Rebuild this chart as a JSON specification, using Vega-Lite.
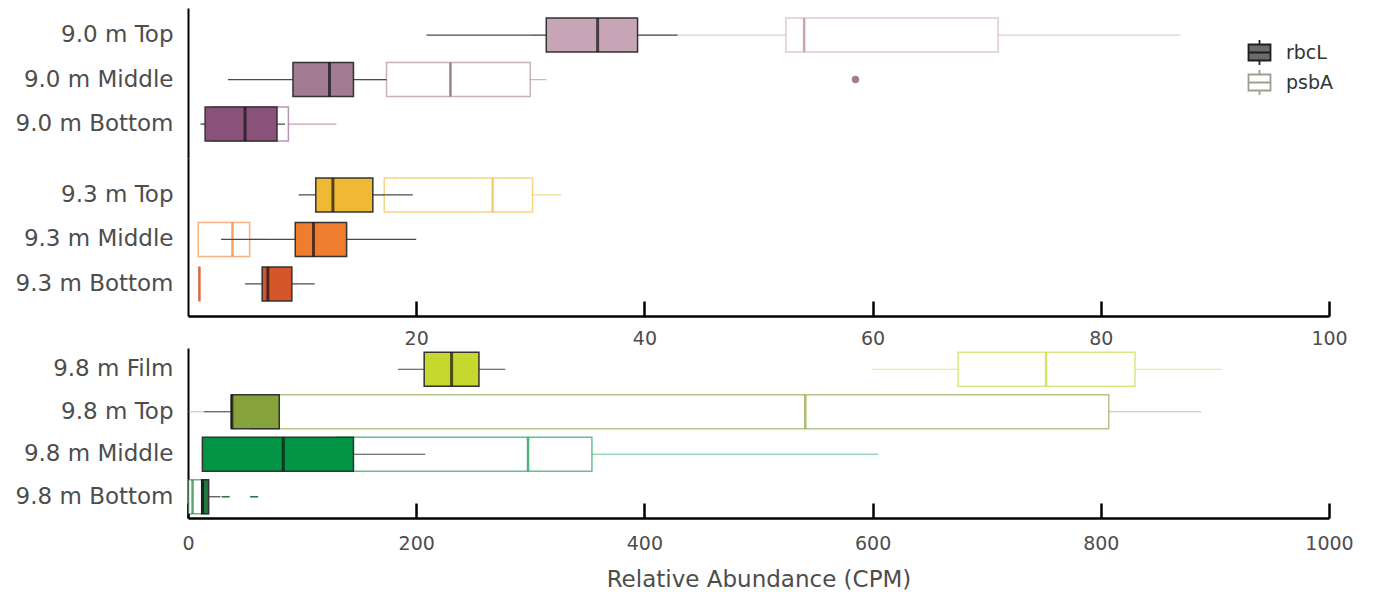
{
  "$schema": "https://vega.github.io/schema/vega-lite/v6.json",
  "background": "white",
  "padding": {"left": 15, "top": 8, "right": 5, "bottom": 2},
  "spacing": 0,
  "bounds": "full",
  "datasets": {
    "boxes": [
      {"panel": "a", "group": "9.0 m Top", "gene": "rbcL", "lo": 20.9, "q1": 31.4, "med": 35.9, "q3": 39.4, "hi": 42.9},
      {"panel": "a", "group": "9.0 m Top", "gene": "psbA", "lo": 30, "q1": 52.4, "med": 54.0, "q3": 71.0, "hi": 87.0},
      {"panel": "a", "group": "9.0 m Middle", "gene": "rbcL", "lo": 3.5, "q1": 9.2, "med": 12.4, "q3": 14.5, "hi": 17.4},
      {"panel": "a", "group": "9.0 m Middle", "gene": "psbA", "lo": 15, "q1": 17.4, "med": 23.0, "q3": 30.0, "hi": 31.4},
      {"panel": "a", "group": "9.0 m Bottom", "gene": "rbcL", "lo": 1.1, "q1": 1.5, "med": 5.0, "q3": 7.8, "hi": 8.5},
      {"panel": "a", "group": "9.0 m Bottom", "gene": "psbA", "lo": 1.2, "q1": 2.0, "med": 5.0, "q3": 8.8, "hi": 13.0},
      {"panel": "b", "group": "9.3 m Top", "gene": "rbcL", "lo": 9.7, "q1": 11.2, "med": 12.7, "q3": 16.2, "hi": 19.7},
      {"panel": "b", "group": "9.3 m Top", "gene": "psbA", "lo": 14, "q1": 17.2, "med": 26.7, "q3": 30.2, "hi": 32.7},
      {"panel": "b", "group": "9.3 m Middle", "gene": "rbcL", "lo": 2.9, "q1": 9.4, "med": 11.0, "q3": 13.9, "hi": 20.0},
      {"panel": "b", "group": "9.3 m Middle", "gene": "psbA", "lo": 0.9, "q1": 0.9, "med": 3.9, "q3": 5.4, "hi": 6.9},
      {"panel": "b", "group": "9.3 m Bottom", "gene": "rbcL", "lo": 5.0, "q1": 6.5, "med": 7.0, "q3": 9.1, "hi": 11.1},
      {"panel": "b", "group": "9.3 m Bottom", "gene": "psbA", "lo": 0.95, "q1": 0.97, "med": 1.0, "q3": 1.02, "hi": 1.05},
      {"panel": "c", "group": "9.8 m Film", "gene": "rbcL", "lo": 184, "q1": 207, "med": 231, "q3": 255, "hi": 278},
      {"panel": "c", "group": "9.8 m Film", "gene": "psbA", "lo": 599, "q1": 675, "med": 752, "q3": 830, "hi": 906},
      {"panel": "c", "group": "9.8 m Top", "gene": "rbcL", "lo": 14, "q1": 38, "med": 38.5, "q3": 80, "hi": 80},
      {"panel": "c", "group": "9.8 m Top", "gene": "psbA", "lo": 0, "q1": 55, "med": 541, "q3": 807, "hi": 888},
      {"panel": "c", "group": "9.8 m Middle", "gene": "rbcL", "lo": 12, "q1": 12.6, "med": 83.5, "q3": 145, "hi": 208},
      {"panel": "c", "group": "9.8 m Middle", "gene": "psbA", "lo": 100, "q1": 130, "med": 298, "q3": 354, "hi": 605},
      {"panel": "c", "group": "9.8 m Bottom", "gene": "rbcL", "lo": 11.5, "q1": 12, "med": 12.8, "q3": 18, "hi": 28.5},
      {"panel": "c", "group": "9.8 m Bottom", "gene": "psbA", "lo": 0, "q1": 0.5, "med": 4, "q3": 18, "hi": 18}
    ],
    "outliers": [
      {"panel": "a", "group": "9.0 m Middle", "gene": "psbA", "value": 58.5},
      {"panel": "c", "group": "9.8 m Bottom", "gene": "rbcL", "value": 33},
      {"panel": "c", "group": "9.8 m Bottom", "gene": "rbcL", "value": 58}
    ]
  },
  "vconcat": [
    {
      "width": 1141,
      "height": 150,
      "data": {"name": "boxes"},
      "transform": [{"filter": "datum.panel === 'a'"}],
      "encoding": {
        "y": {"field": "group", "type": "nominal", "title": null,
          "scale": {"domain": ["9.0 m Top", "9.0 m Middle", "9.0 m Bottom"], "paddingInner": 0, "paddingOuter": 0.185, "align": 0.29}}
      },
      "layer": [
        {"transform": [{"filter": "datum.gene === 'psbA'"}],
         "mark": {"type": "rule", "strokeWidth": 1.2, "strokeOpacity": 0.55},
         "encoding": {
           "x": {"field": "lo", "type": "quantitative", "scale": {"domain": [0, 100], "nice": false, "zero": false}, "axis": null},
           "x2": {"field": "hi"},
           "stroke": {"field": "group", "type": "nominal", "legend": null, "scale": {"domain": ["9.0 m Top","9.0 m Middle","9.0 m Bottom","9.3 m Top","9.3 m Middle","9.3 m Bottom","9.8 m Film","9.8 m Top","9.8 m Middle","9.8 m Bottom"], "range": ["#c8a5b6","#a27b95","#8a527b","#f0b935","#ee7d2f","#d5562a","#c6d72d","#86a23b","#009444","#1f7a3e"]}}
         }},
        {"transform": [{"filter": "datum.gene === 'psbA'"}],
         "mark": {"type": "bar", "size": 34, "fill": "white", "strokeWidth": 1.5, "strokeOpacity": 0.6},
         "encoding": {
           "x": {"field": "q1", "type": "quantitative", "scale": {"domain": [0, 100], "nice": false, "zero": false}, "axis": null},
           "x2": {"field": "q3"},
           "stroke": {"field": "group", "type": "nominal", "legend": null}
         }},
        {"transform": [{"filter": "datum.gene === 'psbA'"}],
         "mark": {"type": "tick", "size": 34, "thickness": 2.5, "opacity": 1},
         "encoding": {
           "x": {"field": "med", "type": "quantitative", "scale": {"domain": [0, 100], "nice": false, "zero": false}, "axis": null},
           "fill": {"field": "group", "type": "nominal", "legend": null, "scale": {"domain": ["9.0 m Top","9.0 m Middle","9.0 m Bottom","9.3 m Top","9.3 m Middle","9.3 m Bottom","9.8 m Film","9.8 m Top","9.8 m Middle","9.8 m Bottom"], "range": ["#c8a5b6","#a27b95","#8a527b","#f0b935","#ee7d2f","#d5562a","#c6d72d","#86a23b","#009444","#1f7a3e"]}}
         }},
        {"transform": [{"filter": "datum.gene === 'rbcL'"}],
         "mark": {"type": "rule", "strokeWidth": 1.2, "color": "#4a4a4a"},
         "encoding": {
           "x": {"field": "lo", "type": "quantitative", "scale": {"domain": [0, 100], "nice": false, "zero": false}, "axis": null},
           "x2": {"field": "hi"}
         }},
        {"transform": [{"filter": "datum.gene === 'rbcL'"}],
         "mark": {"type": "bar", "size": 34, "stroke": "#333333", "strokeWidth": 1.5},
         "encoding": {
           "x": {"field": "q1", "type": "quantitative", "scale": {"domain": [0, 100], "nice": false, "zero": false}, "axis": null},
           "x2": {"field": "q3"},
           "fill": {"field": "group", "type": "nominal", "legend": null}
         }},
        {"transform": [{"filter": "datum.gene === 'rbcL'"}],
         "mark": {"type": "tick", "size": 34, "thickness": 3, "color": "#111111"},
         "encoding": {
           "x": {"field": "med", "type": "quantitative", "scale": {"domain": [0, 100], "nice": false, "zero": false}, "axis": null}
         }},
        {"data": {"name": "outliers"},
         "transform": [{"filter": "datum.panel === 'a'"}],
         "mark": {"type": "circle", "size": 55, "opacity": 1},
         "encoding": {
           "x": {"field": "value", "type": "quantitative", "scale": {"domain": [0, 100], "nice": false, "zero": false}, "axis": null},
           "fill": {"field": "group", "type": "nominal", "legend": null}
         }},
        {"mark": {"type": "point", "filled": true, "opacity": 0},
         "encoding": {
           "x": {"field": "q1", "type": "quantitative", "scale": {"domain": [0, 100], "nice": false, "zero": false}, "axis": null},
           "color": {"field": "gene", "type": "nominal",
             "scale": {"domain": ["rbcL", "psbA"], "range": ["#6b6b6b", "#ffffff"]},
             "legend": {"title": null, "orient": "none", "legendX": 1058, "legendY": 31,
               "symbolType": "M-0.88,-0.64H0.88V0.64H-0.88Z M-0.88,0H0.88 M0,-1V-0.64 M0,0.64V1",
               "symbolSize": 625, "symbolOpacity": 1, "symbolStrokeWidth": 1.8, "symbolStrokeColor": "#333333",
               "labelFontSize": 19, "labelColor": "#333333", "labelFont": "DejaVu Sans", "labelOffset": 13, "rowPadding": -5,
               "encode": {"symbols": {"update": {
                 "fill": {"signal": "datum.value === 'rbcL' ? '#6b6b6b' : '#ffffff'"},
                 "stroke": {"signal": "datum.value === 'rbcL' ? '#1f1f1f' : '#9aa08c'"},
                 "strokeWidth": {"value": 1.8},
                 "opacity": {"value": 1}}}}}}
         }}
      ]
    },
    {
      "width": 1141,
      "height": 158,
      "data": {"name": "boxes"},
      "transform": [{"filter": "datum.panel === 'b'"}],
      "encoding": {
        "y": {"field": "group", "type": "nominal", "title": null,
          "scale": {"domain": ["9.3 m Top", "9.3 m Middle", "9.3 m Bottom"], "paddingInner": 0, "paddingOuter": 0.275, "align": 0.6}}
      },
      "layer": [
        {"transform": [{"filter": "datum.gene === 'psbA'"}],
         "mark": {"type": "rule", "strokeWidth": 1.2, "strokeOpacity": 0.55},
         "encoding": {
           "x": {"field": "lo", "type": "quantitative", "scale": {"domain": [0, 100], "nice": false, "zero": false}, "axis": {"values": [20, 40, 60, 80, 100], "title": null}},
           "x2": {"field": "hi"},
           "stroke": {"field": "group", "type": "nominal", "legend": null}
         }},
        {"transform": [{"filter": "datum.gene === 'psbA'"}],
         "mark": {"type": "bar", "size": 34, "fill": "white", "strokeWidth": 1.5, "strokeOpacity": 0.6},
         "encoding": {
           "x": {"field": "q1", "type": "quantitative", "scale": {"domain": [0, 100], "nice": false, "zero": false}, "axis": {"values": [20, 40, 60, 80, 100], "title": null}},
           "x2": {"field": "q3"},
           "stroke": {"field": "group", "type": "nominal", "legend": null}
         }},
        {"transform": [{"filter": "datum.gene === 'psbA'"}],
         "mark": {"type": "tick", "size": 34, "thickness": 2.5},
         "encoding": {
           "x": {"field": "med", "type": "quantitative", "scale": {"domain": [0, 100], "nice": false, "zero": false}, "axis": {"values": [20, 40, 60, 80, 100], "title": null}},
           "fill": {"field": "group", "type": "nominal", "legend": null}
         }},
        {"transform": [{"filter": "datum.gene === 'rbcL'"}],
         "mark": {"type": "rule", "strokeWidth": 1.2, "color": "#4a4a4a"},
         "encoding": {
           "x": {"field": "lo", "type": "quantitative", "scale": {"domain": [0, 100], "nice": false, "zero": false}, "axis": {"values": [20, 40, 60, 80, 100], "title": null}},
           "x2": {"field": "hi"}
         }},
        {"transform": [{"filter": "datum.gene === 'rbcL'"}],
         "mark": {"type": "bar", "size": 34, "stroke": "#333333", "strokeWidth": 1.5},
         "encoding": {
           "x": {"field": "q1", "type": "quantitative", "scale": {"domain": [0, 100], "nice": false, "zero": false}, "axis": {"values": [20, 40, 60, 80, 100], "title": null}},
           "x2": {"field": "q3"},
           "fill": {"field": "group", "type": "nominal", "legend": null}
         }},
        {"transform": [{"filter": "datum.gene === 'rbcL'"}],
         "mark": {"type": "tick", "size": 34, "thickness": 3, "color": "#111111"},
         "encoding": {
           "x": {"field": "med", "type": "quantitative", "scale": {"domain": [0, 100], "nice": false, "zero": false}, "axis": {"values": [20, 40, 60, 80, 100], "title": null}}
         }}
      ]
    },
    {
      "width": 1141,
      "height": 170,
      "data": {"name": "boxes"},
      "transform": [{"filter": "datum.panel === 'c'"}],
      "encoding": {
        "y": {"field": "group", "type": "nominal", "title": null,
          "scale": {"domain": ["9.8 m Film", "9.8 m Top", "9.8 m Middle", "9.8 m Bottom"], "paddingInner": 0, "paddingOuter": 0}}
      },
      "layer": [
        {"transform": [{"filter": "datum.gene === 'psbA'"}],
         "mark": {"type": "rule", "strokeWidth": 1.2, "strokeOpacity": 0.55},
         "encoding": {
           "x": {"field": "lo", "type": "quantitative", "scale": {"domain": [0, 1000], "nice": false, "zero": false}, "axis": {"values": [0, 200, 400, 600, 800, 1000], "format": "d", "title": "Relative Abundance (CPM)", "labelPadding": 31}},
           "x2": {"field": "hi"},
           "stroke": {"field": "group", "type": "nominal", "legend": null}
         }},
        {"transform": [{"filter": "datum.gene === 'psbA'"}],
         "mark": {"type": "bar", "size": 34, "fill": "white", "strokeWidth": 1.5, "strokeOpacity": 0.6},
         "encoding": {
           "x": {"field": "q1", "type": "quantitative", "scale": {"domain": [0, 1000], "nice": false, "zero": false}, "axis": {"values": [0, 200, 400, 600, 800, 1000], "format": "d", "title": "Relative Abundance (CPM)", "labelPadding": 31}},
           "x2": {"field": "q3"},
           "stroke": {"field": "group", "type": "nominal", "legend": null}
         }},
        {"transform": [{"filter": "datum.gene === 'psbA'"}],
         "mark": {"type": "tick", "size": 34, "thickness": 2.5},
         "encoding": {
           "x": {"field": "med", "type": "quantitative", "scale": {"domain": [0, 1000], "nice": false, "zero": false}, "axis": {"values": [0, 200, 400, 600, 800, 1000], "format": "d", "title": "Relative Abundance (CPM)", "labelPadding": 31}},
           "fill": {"field": "group", "type": "nominal", "legend": null}
         }},
        {"transform": [{"filter": "datum.gene === 'rbcL'"}],
         "mark": {"type": "rule", "strokeWidth": 1.2, "color": "#4a4a4a"},
         "encoding": {
           "x": {"field": "lo", "type": "quantitative", "scale": {"domain": [0, 1000], "nice": false, "zero": false}, "axis": {"values": [0, 200, 400, 600, 800, 1000], "format": "d", "title": "Relative Abundance (CPM)", "labelPadding": 31}},
           "x2": {"field": "hi"}
         }},
        {"transform": [{"filter": "datum.gene === 'rbcL'"}],
         "mark": {"type": "bar", "size": 34, "stroke": "#333333", "strokeWidth": 1.5},
         "encoding": {
           "x": {"field": "q1", "type": "quantitative", "scale": {"domain": [0, 1000], "nice": false, "zero": false}, "axis": {"values": [0, 200, 400, 600, 800, 1000], "format": "d", "title": "Relative Abundance (CPM)", "labelPadding": 31}},
           "x2": {"field": "q3"},
           "fill": {"field": "group", "type": "nominal", "legend": null}
         }},
        {"transform": [{"filter": "datum.gene === 'rbcL'"}],
         "mark": {"type": "tick", "size": 34, "thickness": 3, "color": "#111111"},
         "encoding": {
           "x": {"field": "med", "type": "quantitative", "scale": {"domain": [0, 1000], "nice": false, "zero": false}, "axis": {"values": [0, 200, 400, 600, 800, 1000], "format": "d", "title": "Relative Abundance (CPM)", "labelPadding": 31}}
         }},
        {"data": {"name": "outliers"},
         "transform": [{"filter": "datum.panel === 'c'"}],
         "mark": {"type": "point", "shape": "stroke", "size": 64, "strokeWidth": 1.6, "filled": false, "opacity": 1},
         "encoding": {
           "x": {"field": "value", "type": "quantitative", "scale": {"domain": [0, 1000], "nice": false, "zero": false}, "axis": {"values": [0, 200, 400, 600, 800, 1000], "format": "d", "title": "Relative Abundance (CPM)", "labelPadding": 31}},
           "stroke": {"field": "group", "type": "nominal", "legend": null}
         }}
      ]
    }
  ],
  "config": {
    "view": {"stroke": null},
    "font": "DejaVu Sans",
    "axis": {"grid": false, "domainColor": "#000000", "tickColor": "#000000", "labelColor": "#4d4d4d", "labelFont": "DejaVu Sans", "titleFont": "DejaVu Sans", "titleColor": "#4d4d4d", "titleFontWeight": "normal"},
    "axisY": {"domainWidth": 2, "ticks": false, "labelFontSize": 23, "labelPadding": 15},
    "axisX": {"domainWidth": 2.5, "tickWidth": 2.5, "tickSize": -15, "labelFontSize": 19, "labelPadding": 28, "titleFontSize": 23, "titlePadding": 15, "labelFlush": false}
  }
}
